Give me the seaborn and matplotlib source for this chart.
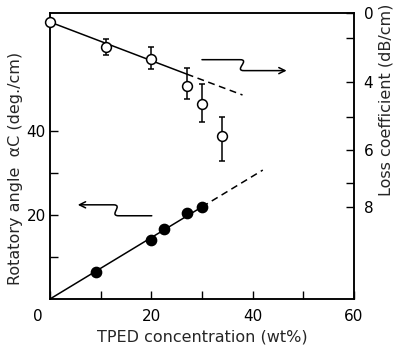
import numpy as np
import pandas as pd
import matplotlib
matplotlib.use("Agg")
import matplotlib.pyplot as plt
import seaborn as sns
from matplotlib.path import Path
from matplotlib.patches import FancyArrowPatch
from matplotlib.ticker import FixedLocator, FixedFormatter, NullFormatter

# ---- rotatory angle (left axis, filled circles) ----
rot_conc = [9.0, 20.0, 22.5, 27.0, 30.0]
rot_angle = [6.4, 14.0, 16.6, 20.4, 21.9]
rot_slope = 0.73          # deg./cm per wt%
rot_solid_end = 30.0
rot_dash_end = 42.0

# ---- loss coefficient (right axis, open circles) ----
loss_conc = [0.0, 11.0, 20.0, 27.0, 30.0, 34.0]
loss_val = [0.72, 2.41, 2.95, 4.11, 4.63, 5.58]
loss_err_lo = [0.0, 0.38, 0.55, 0.75, 0.57, 0.58]
loss_err_hi = [0.0, 0.36, 0.46, 0.38, 0.52, 0.75]
loss_fit_conc = [0.0, 27.0, 38.0]
loss_fit_val = [0.72, 3.64, 4.37]

# right axis of the original is not evenly spaced -> piecewise scale
loss_knot_val = [-2, 0, 2, 4, 5, 6, 7, 8, 14]
loss_knot_pos = [-37, 13, 38, 82, 117, 150, 183, 207, 351]

def loss_fwd(v):
    return np.interp(v, loss_knot_val, loss_knot_pos)

def loss_inv(p):
    return np.interp(p, loss_knot_pos, loss_knot_val)

sns.set_theme(style="ticks")
plt.rcParams['font.family'] = ['DejaVu Sans']
plt.rcParams['text.color'] = 'black'

fig = plt.figure(figsize=(3.96, 3.51), dpi=100)
ax = fig.add_axes([0.126, 0.148, 0.768, 0.815])
ax2 = ax.twinx()

df_rot = pd.DataFrame({'conc': rot_conc, 'angle': rot_angle})
df_loss = pd.DataFrame({'conc': loss_conc, 'loss': loss_val})

# fitted lines
xs = np.array([0.0, rot_solid_end])
xd = np.array([rot_solid_end, rot_dash_end])
ax.plot(xs, rot_slope * xs, color='black', lw=1.1, zorder=2)
ax.plot(xd, rot_slope * xd, color='black', lw=1.1, ls=(0, (4.5, 3)), zorder=2)
sns.scatterplot(data=df_rot, x='conc', y='angle', ax=ax, s=55, color='black',
                edgecolor='black', linewidth=1, zorder=3, clip_on=False)

ax2.set_yscale('function', functions=(loss_fwd, loss_inv))
ax2.plot(loss_fit_conc[:2], loss_fit_val[:2], color='black', lw=1.1, zorder=2)
ax2.plot(loss_fit_conc[1:], loss_fit_val[1:], color='black', lw=1.1,
         ls=(0, (4.5, 3)), zorder=2)
ax2.errorbar(loss_conc, loss_val, yerr=[loss_err_lo, loss_err_hi], fmt='none',
             ecolor='black', elinewidth=1.1, capsize=2.5, capthick=1.1, zorder=2)
sns.scatterplot(data=df_loss, x='conc', y='loss', ax=ax2, s=50, color='white',
                edgecolor='black', linewidth=1.1, zorder=4, clip_on=False)

# axes limits and ticks
ax.set_xlim(0, 60)
ax.set_ylim(0, 68)
ax2.set_ylim(11.83, 0)

ax.xaxis.set_major_locator(FixedLocator([0, 20, 40, 60]))
ax.set_xticklabels(['', '20', '40', '60'])
ax.xaxis.set_minor_locator(FixedLocator([10, 30, 50]))
ax.yaxis.set_major_locator(FixedLocator([20, 40]))
ax.yaxis.set_minor_locator(FixedLocator([10, 30]))
ax2.yaxis.set_major_locator(FixedLocator([0, 4, 6, 8]))
ax2.yaxis.set_major_formatter(FixedFormatter(['0', '4', '6', '8']))
ax2.yaxis.set_minor_locator(FixedLocator([2, 5, 7]))
ax2.yaxis.set_minor_formatter(NullFormatter())

for a in (ax, ax2):
    a.tick_params(which='both', direction='in', length=6, width=1.0,
                  color='black', labelsize=11, labelcolor='black')
    for sp in a.spines.values():
        sp.set_color('black')
        sp.set_linewidth(1.1)
ax.tick_params(axis='x', pad=7)
ax.tick_params(axis='y', pad=3)
ax2.tick_params(axis='y', pad=7)
ax.tick_params(top=False, right=False)

ax.annotate('0', xy=(0, 0), xytext=(-12, -17), textcoords='offset pixels',
            ha='center', va='center', fontsize=11)

ax.set_xlabel('TPED concentration (wt%)', fontsize=11.5, labelpad=4)
ax.set_ylabel('Rotatory angle  \u03b1C (deg./cm)', fontsize=11.5)
ax.yaxis.set_label_coords(-0.09, 0.458)
ax2.set_ylabel('Loss coefficient (dB/cm)', fontsize=11.5)
ax2.yaxis.set_label_coords(1.079, 0.696)

# wavy indicator arrows (drawn in left-axis data coordinates)
def wavy_arrow(axis, p0, p1, c1, c2, p2, p3):
    verts = [p0, p1, c1, c2, p2, p3]
    codes = [Path.MOVETO, Path.LINETO, Path.CURVE4, Path.CURVE4, Path.CURVE4,
             Path.LINETO]
    arr = FancyArrowPatch(path=Path(verts, codes), arrowstyle='->',
                          mutation_scale=11, lw=1.1, color='black',
                          transform=axis.transData)
    axis.add_patch(arr)

wavy_arrow(ax, (30.0, 56.9), (37.5, 56.9), (39.6, 56.9), (36.2, 54.3),
           (38.3, 54.3), (46.7, 54.3))
wavy_arrow(ax, (20.1, 19.8), (13.6, 19.8), (11.5, 19.8), (14.6, 22.4),
           (12.5, 22.4), (5.5, 22.4))

fig.savefig('out.png', dpi=100)
